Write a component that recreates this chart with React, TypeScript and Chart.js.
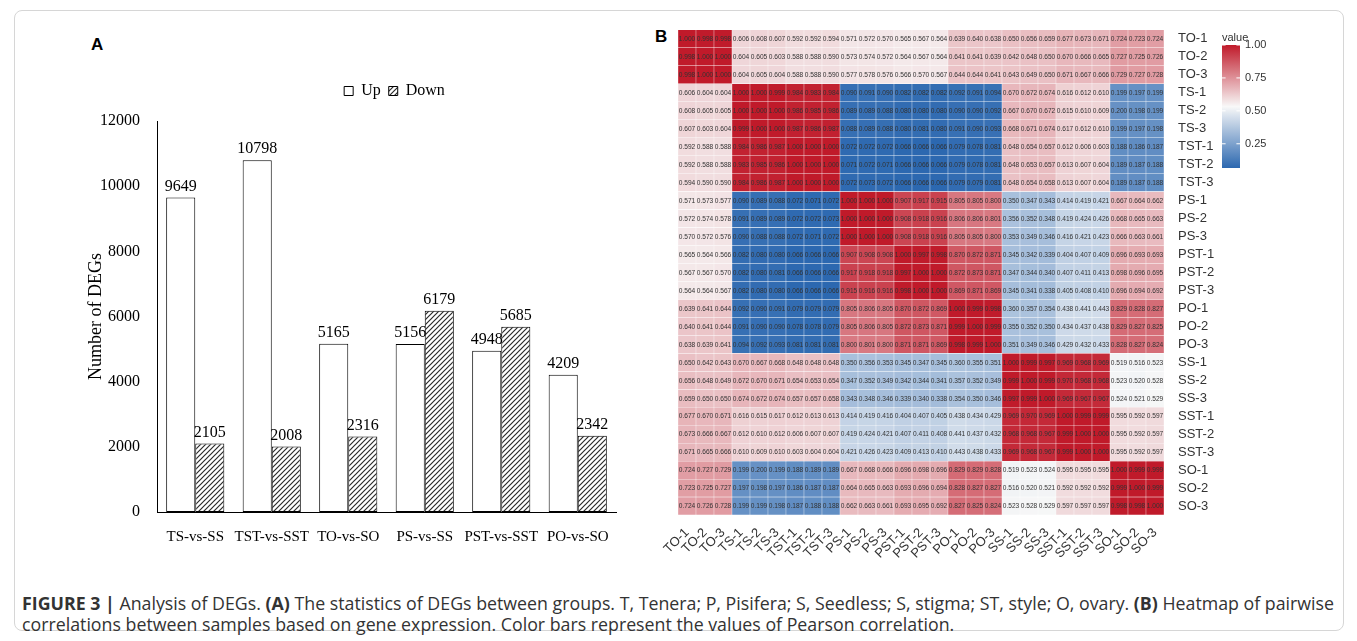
import React, { useEffect, useRef } from "react";
import { Chart, registerables } from "chart.js";
Chart.register(...registerables);

// ---------- Panel A data ----------
const degCategories = ["TS-vs-SS", "TST-vs-SST", "TO-vs-SO", "PS-vs-SS", "PST-vs-SST", "PO-vs-SO"];
const upValues = [9649, 10798, 5165, 5156, 4948, 4209];
const downValues = [2105, 2008, 2316, 6179, 5685, 2342];
const degTicks = [0, 2000, 4000, 6000, 8000, 10000, 12000];

// ---------- Panel B data ----------
const samples = [
  "TO-1", "TO-2", "TO-3", "TS-1", "TS-2", "TS-3", "TST-1", "TST-2", "TST-3",
  "PS-1", "PS-2", "PS-3", "PST-1", "PST-2", "PST-3", "PO-1", "PO-2", "PO-3",
  "SS-1", "SS-2", "SS-3", "SST-1", "SST-2", "SST-3", "SO-1", "SO-2", "SO-3",
];
const corrMatrix: number[][] = [
  [1.000, 0.998, 0.998, 0.606, 0.608, 0.607, 0.592, 0.592, 0.594, 0.571, 0.572, 0.570, 0.565, 0.567, 0.564, 0.639, 0.640, 0.638, 0.650, 0.656, 0.659, 0.677, 0.673, 0.671, 0.724, 0.723, 0.724],
  [0.998, 1.000, 1.000, 0.604, 0.605, 0.603, 0.588, 0.588, 0.590, 0.573, 0.574, 0.572, 0.564, 0.567, 0.564, 0.641, 0.641, 0.639, 0.642, 0.648, 0.650, 0.670, 0.666, 0.665, 0.727, 0.725, 0.726],
  [0.998, 1.000, 1.000, 0.604, 0.605, 0.604, 0.588, 0.588, 0.590, 0.577, 0.578, 0.576, 0.566, 0.570, 0.567, 0.644, 0.644, 0.641, 0.643, 0.649, 0.650, 0.671, 0.667, 0.666, 0.729, 0.727, 0.728],
  [0.606, 0.604, 0.604, 1.000, 1.000, 0.999, 0.984, 0.983, 0.984, 0.090, 0.091, 0.090, 0.082, 0.082, 0.082, 0.092, 0.091, 0.094, 0.670, 0.672, 0.674, 0.616, 0.612, 0.610, 0.199, 0.197, 0.199],
  [0.608, 0.605, 0.605, 1.000, 1.000, 1.000, 0.986, 0.985, 0.986, 0.089, 0.089, 0.088, 0.080, 0.080, 0.080, 0.090, 0.090, 0.092, 0.667, 0.670, 0.672, 0.615, 0.610, 0.609, 0.200, 0.198, 0.199],
  [0.607, 0.603, 0.604, 0.999, 1.000, 1.000, 0.987, 0.986, 0.987, 0.088, 0.089, 0.088, 0.080, 0.081, 0.080, 0.091, 0.090, 0.093, 0.668, 0.671, 0.674, 0.617, 0.612, 0.610, 0.199, 0.197, 0.198],
  [0.592, 0.588, 0.588, 0.984, 0.986, 0.987, 1.000, 1.000, 1.000, 0.072, 0.072, 0.072, 0.066, 0.066, 0.066, 0.079, 0.078, 0.081, 0.648, 0.654, 0.657, 0.612, 0.606, 0.603, 0.188, 0.186, 0.187],
  [0.592, 0.588, 0.588, 0.983, 0.985, 0.986, 1.000, 1.000, 1.000, 0.071, 0.072, 0.071, 0.066, 0.066, 0.066, 0.079, 0.078, 0.081, 0.648, 0.653, 0.657, 0.613, 0.607, 0.604, 0.189, 0.187, 0.188],
  [0.594, 0.590, 0.590, 0.984, 0.986, 0.987, 1.000, 1.000, 1.000, 0.072, 0.073, 0.072, 0.066, 0.066, 0.066, 0.079, 0.079, 0.081, 0.648, 0.654, 0.658, 0.613, 0.607, 0.604, 0.189, 0.187, 0.188],
  [0.571, 0.573, 0.577, 0.090, 0.089, 0.088, 0.072, 0.071, 0.072, 1.000, 1.000, 1.000, 0.907, 0.917, 0.915, 0.805, 0.805, 0.800, 0.350, 0.347, 0.343, 0.414, 0.419, 0.421, 0.667, 0.664, 0.662],
  [0.572, 0.574, 0.578, 0.091, 0.089, 0.089, 0.072, 0.072, 0.073, 1.000, 1.000, 1.000, 0.908, 0.918, 0.916, 0.806, 0.806, 0.801, 0.356, 0.352, 0.348, 0.419, 0.424, 0.426, 0.668, 0.665, 0.663],
  [0.570, 0.572, 0.576, 0.090, 0.088, 0.088, 0.072, 0.071, 0.072, 1.000, 1.000, 1.000, 0.908, 0.918, 0.916, 0.805, 0.805, 0.800, 0.353, 0.349, 0.346, 0.416, 0.421, 0.423, 0.666, 0.663, 0.661],
  [0.565, 0.564, 0.566, 0.082, 0.080, 0.080, 0.066, 0.066, 0.066, 0.907, 0.908, 0.908, 1.000, 0.997, 0.998, 0.870, 0.872, 0.871, 0.345, 0.342, 0.339, 0.404, 0.407, 0.409, 0.696, 0.693, 0.693],
  [0.567, 0.567, 0.570, 0.082, 0.080, 0.081, 0.066, 0.066, 0.066, 0.917, 0.918, 0.918, 0.997, 1.000, 1.000, 0.872, 0.873, 0.871, 0.347, 0.344, 0.340, 0.407, 0.411, 0.413, 0.698, 0.696, 0.695],
  [0.564, 0.564, 0.567, 0.082, 0.080, 0.080, 0.066, 0.066, 0.066, 0.915, 0.916, 0.916, 0.998, 1.000, 1.000, 0.869, 0.871, 0.869, 0.345, 0.341, 0.338, 0.405, 0.408, 0.410, 0.696, 0.694, 0.692],
  [0.639, 0.641, 0.644, 0.092, 0.090, 0.091, 0.079, 0.079, 0.079, 0.805, 0.806, 0.805, 0.870, 0.872, 0.869, 1.000, 0.999, 0.998, 0.360, 0.357, 0.354, 0.438, 0.441, 0.443, 0.829, 0.828, 0.827],
  [0.640, 0.641, 0.644, 0.091, 0.090, 0.090, 0.078, 0.078, 0.079, 0.805, 0.806, 0.805, 0.872, 0.873, 0.871, 0.999, 1.000, 0.999, 0.355, 0.352, 0.350, 0.434, 0.437, 0.438, 0.829, 0.827, 0.825],
  [0.638, 0.639, 0.641, 0.094, 0.092, 0.093, 0.081, 0.081, 0.081, 0.800, 0.801, 0.800, 0.871, 0.871, 0.869, 0.998, 0.999, 1.000, 0.351, 0.349, 0.346, 0.429, 0.432, 0.433, 0.828, 0.827, 0.824],
  [0.650, 0.642, 0.643, 0.670, 0.667, 0.668, 0.648, 0.648, 0.648, 0.350, 0.356, 0.353, 0.345, 0.347, 0.345, 0.360, 0.355, 0.351, 1.000, 0.999, 0.997, 0.969, 0.968, 0.969, 0.519, 0.516, 0.523],
  [0.656, 0.648, 0.649, 0.672, 0.670, 0.671, 0.654, 0.653, 0.654, 0.347, 0.352, 0.349, 0.342, 0.344, 0.341, 0.357, 0.352, 0.349, 0.999, 1.000, 0.999, 0.970, 0.968, 0.968, 0.523, 0.520, 0.528],
  [0.659, 0.650, 0.650, 0.674, 0.672, 0.674, 0.657, 0.657, 0.658, 0.343, 0.348, 0.346, 0.339, 0.340, 0.338, 0.354, 0.350, 0.346, 0.997, 0.999, 1.000, 0.969, 0.967, 0.967, 0.524, 0.521, 0.529],
  [0.677, 0.670, 0.671, 0.616, 0.615, 0.617, 0.612, 0.613, 0.613, 0.414, 0.419, 0.416, 0.404, 0.407, 0.405, 0.438, 0.434, 0.429, 0.969, 0.970, 0.969, 1.000, 0.999, 0.999, 0.595, 0.592, 0.597],
  [0.673, 0.666, 0.667, 0.612, 0.610, 0.612, 0.606, 0.607, 0.607, 0.419, 0.424, 0.421, 0.407, 0.411, 0.408, 0.441, 0.437, 0.432, 0.968, 0.968, 0.967, 0.999, 1.000, 1.000, 0.595, 0.592, 0.597],
  [0.671, 0.665, 0.666, 0.610, 0.609, 0.610, 0.603, 0.604, 0.604, 0.421, 0.426, 0.423, 0.409, 0.413, 0.410, 0.443, 0.438, 0.433, 0.969, 0.968, 0.967, 0.999, 1.000, 1.000, 0.595, 0.592, 0.597],
  [0.724, 0.727, 0.729, 0.199, 0.200, 0.199, 0.188, 0.189, 0.189, 0.667, 0.668, 0.666, 0.696, 0.698, 0.696, 0.829, 0.829, 0.828, 0.519, 0.523, 0.524, 0.595, 0.595, 0.595, 1.000, 0.999, 0.999],
  [0.723, 0.725, 0.727, 0.197, 0.198, 0.197, 0.186, 0.187, 0.187, 0.664, 0.665, 0.663, 0.693, 0.696, 0.694, 0.828, 0.827, 0.827, 0.516, 0.520, 0.521, 0.592, 0.592, 0.592, 0.999, 1.000, 0.999],
  [0.724, 0.726, 0.728, 0.199, 0.199, 0.198, 0.187, 0.188, 0.188, 0.662, 0.663, 0.661, 0.693, 0.695, 0.692, 0.827, 0.825, 0.824, 0.523, 0.528, 0.529, 0.597, 0.597, 0.597, 0.998, 0.998, 1.000],
];
const colorbarTicks = [1.0, 0.75, 0.5, 0.25];

const LOW = [44, 104, 176];
const MID = [248, 248, 248];
const HIGH = [192, 26, 42];
const V_MIN = 0.066;
const V_MAX = 1.0;

function colorFor(v: number): string {
  const mid = (V_MIN + V_MAX) / 2;
  let a: number[], b: number[], t: number;
  if (v < mid) {
    a = LOW; b = MID; t = (v - V_MIN) / (mid - V_MIN);
  } else {
    a = MID; b = HIGH; t = (v - mid) / (V_MAX - mid);
  }
  t = Math.max(0, Math.min(1, t));
  const c = a.map((x, i) => Math.round(x + (b[i] - x) * t));
  return `rgb(${c[0]},${c[1]},${c[2]})`;
}

function makeHatch(): CanvasPattern | string {
  const c = document.createElement("canvas");
  c.width = 5;
  c.height = 5;
  const g = c.getContext("2d");
  if (!g) return "#888";
  g.fillStyle = "#ffffff";
  g.fillRect(0, 0, 5, 5);
  g.strokeStyle = "#2a2a2a";
  g.lineWidth = 1.2;
  g.beginPath();
  g.moveTo(0, 5); g.lineTo(5, 0);
  g.moveTo(-1, 1); g.lineTo(1, -1);
  g.moveTo(4, 6); g.lineTo(6, 4);
  g.stroke();
  return g.createPattern(c, "repeat") || "#888";
}

const SERIF = '"Liberation Serif", "Times New Roman", serif';
const SANS = '"Liberation Sans", Arial, sans-serif';
const CAPTION_LINE1_WIDTH = 1313;

export default function App() {
  const refA = useRef<HTMLCanvasElement>(null);
  const refB = useRef<HTMLCanvasElement>(null);
  const capBox = useRef<HTMLDivElement>(null);
  const capLine1 = useRef<HTMLSpanElement>(null);

  useEffect(() => {
    if (capBox.current && capLine1.current) {
      const w = capLine1.current.getBoundingClientRect().width;
      if (w > 0) {
        const size = (16 * CAPTION_LINE1_WIDTH) / w;
        capBox.current.style.fontSize = `${size.toFixed(2)}px`;
      }
    }
  }, []);

  useEffect(() => {
    if (!refA.current || !refB.current) return;
    const hatch = makeHatch();

    const barLabels = {
      id: "barLabels",
      afterDatasetsDraw(chart: any) {
        const ctx = chart.ctx;
        ctx.save();
        ctx.font = `16px ${SERIF}`;
        ctx.fillStyle = "#000";
        ctx.textAlign = "center";
        ctx.textBaseline = "bottom";
        chart.data.datasets.forEach((ds: any, di: number) => {
          const meta = chart.getDatasetMeta(di);
          meta.data.forEach((el: any, i: number) => {
            ctx.fillText(String(ds.data[i]), el.x, el.y - 3);
          });
        });
        ctx.restore();
      },
    };

    const legendPlace = {
      id: "legendPlace",
      beforeInit(chart: any) {
        const legend = chart.legend;
        if (!legend) return;
        const orig = legend.fit.bind(legend);
        legend.fit = function () {
          orig();
          this.height += 12;
        };
      },
      afterLayout(chart: any) {
        const legend = chart.legend;
        if (!legend) return;
        legend.left += 44;
        legend.right += 44;
      },
    };

    const chartA = new Chart(refA.current, {
      type: "bar",
      data: {
        labels: degCategories,
        datasets: [
          {
            label: "Up",
            data: upValues,
            backgroundColor: "#ffffff",
            borderColor: "#000000",
            borderWidth: 1,
            borderSkipped: false,
            categoryPercentage: 0.76,
            barPercentage: 1,
          },
          {
            label: "Down",
            data: downValues,
            backgroundColor: hatch as any,
            borderColor: "#000000",
            borderWidth: 1,
            borderSkipped: false,
            categoryPercentage: 0.76,
            barPercentage: 1,
          },
        ],
      },
      options: {
        animation: false,
        responsive: true,
        maintainAspectRatio: false,
        layout: { padding: { top: 20, right: 29, bottom: 8, left: 0 } },
        plugins: {
          legend: {
            position: "top",
            labels: {
              font: { family: SERIF, size: 16 },
              color: "#000",
              boxWidth: 9,
              boxHeight: 9,
              padding: 8,
            },
          },
          tooltip: { enabled: false },
        },
        scales: {
          x: {
            grid: { display: false },
            border: { display: true, color: "#000", width: 1 },
            ticks: {
              font: { family: SERIF, size: 15 },
              color: "#000",
              padding: 8,
              autoSkip: false,
              minRotation: 0,
              maxRotation: 0,
            },
            afterFit(scale: any) { scale.height = 40; },
          },
          y: {
            min: 0,
            max: 12000,
            afterBuildTicks(scale: any) {
              scale.ticks = degTicks.map((v) => ({ value: v }));
            },
            grid: { display: false },
            border: { display: true, color: "#000", width: 1 },
            ticks: {
              font: { family: SERIF, size: 16 },
              color: "#000",
              padding: 9,
              callback: (v: any) => String(v),
            },
            title: {
              display: true,
              text: "Number of DEGs",
              font: { family: SERIF, size: 18 },
              color: "#000",
              padding: 0,
            },
            afterFit(scale: any) { scale.width = 72; },
          },
        },
      },
      plugins: [barLabels, legendPlace],
    });

    const cellText = {
      id: "cellText",
      afterDatasetsDraw(chart: any) {
        const ctx = chart.ctx;
        ctx.save();
        ctx.font = `6.6px ${SANS}`;
        ctx.fillStyle = "#333333";
        ctx.textAlign = "center";
        ctx.textBaseline = "middle";
        corrMatrix.forEach((row, ri) => {
          const meta = chart.getDatasetMeta(ri);
          meta.data.forEach((el: any, ci: number) => {
            ctx.fillText(row[ci].toFixed(3), el.x, (el.y + el.base) / 2 + 0.5);
          });
        });
        ctx.restore();
      },
    };

    const colorbar = {
      id: "colorbar",
      afterDraw(chart: any) {
        const ctx = chart.ctx;
        const area = chart.chartArea;
        const x0 = area.right + 58;
        const w = 18;
        const top = 45 - 16;
        const h = 123;
        ctx.save();
        const grad = ctx.createLinearGradient(0, top + h, 0, top);
        for (let k = 0; k <= 20; k++) {
          const v = V_MIN + ((V_MAX - V_MIN) * k) / 20;
          grad.addColorStop(k / 20, colorFor(v));
        }
        ctx.fillStyle = grad;
        ctx.fillRect(x0, top, w, h);
        ctx.font = `11px ${SANS}`;
        ctx.fillStyle = "#333";
        ctx.textBaseline = "alphabetic";
        ctx.textAlign = "left";
        ctx.fillText("value", x0, top - 4);
        ctx.textBaseline = "middle";
        colorbarTicks.forEach((v) => {
          const y = top + ((V_MAX - v) / (V_MAX - V_MIN)) * h;
          ctx.strokeStyle = "#fff";
          ctx.lineWidth = 1;
          ctx.beginPath();
          ctx.moveTo(x0, y); ctx.lineTo(x0 + 3.6, y);
          ctx.moveTo(x0 + w - 3.6, y); ctx.lineTo(x0 + w, y);
          ctx.stroke();
          ctx.fillStyle = "#333";
          ctx.fillText(v.toFixed(2), x0 + w + 5, y);
        });
        ctx.restore();
      },
    };

    const chartB = new Chart(refB.current, {
      type: "bar",
      data: {
        labels: samples,
        datasets: samples.map((s, ri) => ({
          label: s,
          data: samples.map(() => 1),
          backgroundColor: corrMatrix[ri].map(colorFor),
          borderColor: "rgba(255,255,255,0.55)",
          borderWidth: 0.5,
          borderSkipped: false,
          categoryPercentage: 1,
          barPercentage: 1,
          stack: "rows",
        })),
      },
      options: {
        animation: false,
        responsive: true,
        maintainAspectRatio: false,
        layout: { padding: { top: 13, right: 140, bottom: 0, left: 38 } },
        plugins: { legend: { display: false }, tooltip: { enabled: false } },
        scales: {
          x: {
            stacked: true,
            grid: { display: false },
            border: { display: false },
            ticks: {
              autoSkip: false,
              minRotation: 45,
              maxRotation: 45,
              font: { family: SANS, size: 13 },
              color: "#333",
              padding: 2,
            },
            afterFit(scale: any) { scale.height = 48; },
          },
          y: {
            stacked: true,
            position: "right",
            min: 0,
            max: 27,
            reverse: true,
            afterBuildTicks(scale: any) {
              scale.ticks = samples.map((_, i) => ({ value: i + 0.5 }));
            },
            grid: { display: false },
            border: { display: false },
            ticks: {
              autoSkip: false,
              font: { family: SANS, size: 13 },
              color: "#333",
              padding: 6,
              callback: (v: any) => samples[Math.floor(Number(v))] ?? "",
            },
            afterFit(scale: any) { scale.width = 53; },
          },
        },
      },
      plugins: [cellText, colorbar],
    });

    return () => {
      chartA.destroy();
      chartB.destroy();
    };
  }, []);

  return (
    <div
      style={{
        position: "fixed",
        left: 0,
        top: 0,
        width: 1357,
        height: 641,
        background: "#fff",
        overflow: "hidden",
      }}
    >
      <div
        style={{
          position: "absolute",
          left: 14,
          top: 10,
          width: 1328,
          height: 619,
          border: "1px solid #d6d6d6",
          borderRadius: 8,
        }}
      />
      <div style={{ position: "absolute", left: 91, top: 35, font: `bold 17px ${SANS}`, color: "#000" }}>A</div>
      <div style={{ position: "absolute", left: 655, top: 27, font: `bold 17px ${SANS}`, color: "#000" }}>B</div>
      <div style={{ position: "absolute", left: 85, top: 55, width: 560, height: 505 }}>
        <canvas ref={refA} />
      </div>
      <div style={{ position: "absolute", left: 640, top: 16, width: 717, height: 547 }}>
        <canvas ref={refB} />
      </div>
      <div
        ref={capBox}
        style={{
          position: "absolute",
          left: 22,
          top: 593,
          fontFamily: `"Open Sans", ${SANS}`,
          fontSize: 16,
          lineHeight: "21px",
          color: "#333",
          whiteSpace: "nowrap",
        }}
      >
        <span ref={capLine1}>
          <b>FIGURE 3 |</b> Analysis of DEGs. <b>(A)</b> The statistics of DEGs between groups. T, Tenera; P,
          Pisifera; S, Seedless; S, stigma; ST, style; O, ovary. <b>(B)</b> Heatmap of pairwise
        </span>
        <br />
        <span>
          correlations between samples based on gene expression. Color bars represent the values of Pearson
          correlation.
        </span>
      </div>
    </div>
  );
}
